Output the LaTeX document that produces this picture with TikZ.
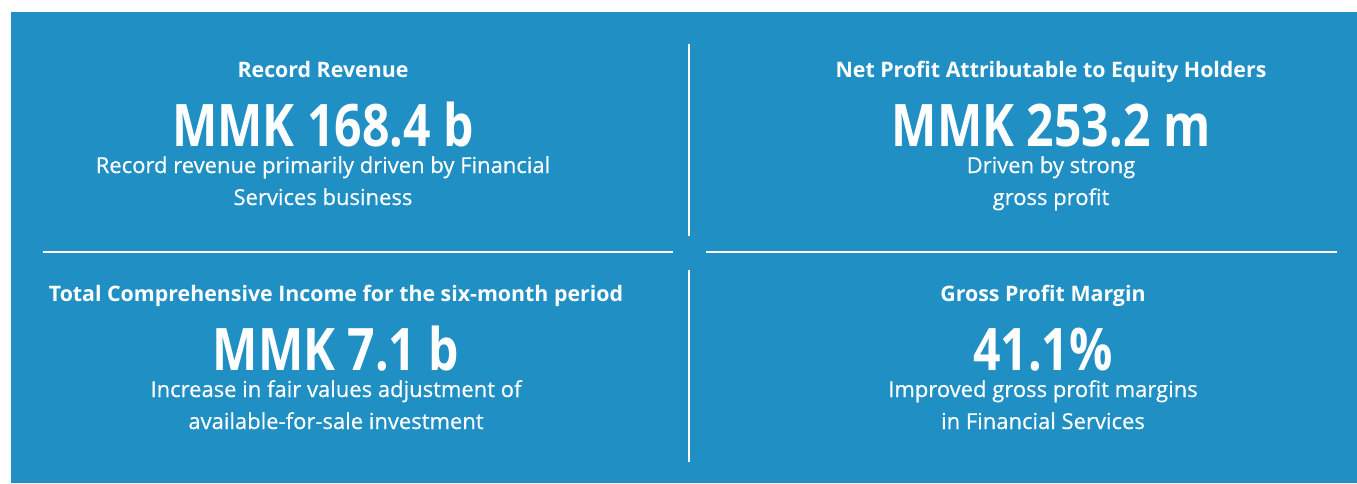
\documentclass[tikz,border=0pt]{standalone}
\usepackage{fontspec}
\setmainfont{Open Sans}
\newfontfamily\figurefont[FakeStretch=0.82]{Open Sans}
\newfontfamily\remarkfont[FakeBold=0.4]{Open Sans}
\usepackage{tikz}

\definecolor{panelblue}{RGB}{32,144,196}

\tikzset{
  title/.style={text=white, inner sep=0pt, font=\bfseries\fontsize{16}{19}\selectfont, anchor=base},
  figure/.style={text=white, inner sep=0pt, text depth=0pt, font=\figurefont\bfseries\fontsize{44}{48}\selectfont, anchor=base},
  remark/.style={text=white, inner sep=0pt, font=\remarkfont\fontsize{16.5}{24}\selectfont, anchor=base, align=center},
  divider/.style={white, line width=1.5pt}
}

\begin{document}
\begin{tikzpicture}[x=0.75pt, y=-0.75pt]

        \useasboundingbox (0, 0) rectangle (1357, 483);
        \fill[white] (0, 0) rectangle (1357, 483);
        \fill[panelblue] (11, 12) rectangle (1357, 483);

        \coordinate (vt1) at (689, 44);  \coordinate (vt2) at (689, 236);
        \coordinate (vb1) at (689, 270); \coordinate (vb2) at (689, 462);
        \coordinate (hl1) at (43, 252);  \coordinate (hl2) at (673, 252);
        \coordinate (hr1) at (706, 252); \coordinate (hr2) at (1337, 252);

        \draw[divider] (vt1) -- (vt2);
        \draw[divider] (vb1) -- (vb2);
        \draw[divider] (hl1) -- (hl2);
        \draw[divider] (hr1) -- (hr2);

        \node[title]  (revtitle) at (323, 77)  {Record Revenue};
        \node[figure] (revvalue) at (323, 146) {MMK 168.4 b};
        \node[remark] (revnote1) at (323, 173) {Record revenue primarily driven by Financial};
        \node[remark] (revnote2) at (323, 205) {Services business};

        \node[title]  (proftitle) at (1051, 77)  {Net Profit Attributable to Equity Holders};
        \node[figure] (profvalue) at (1051, 146) {MMK 253.2 m};
        \node[remark] (profnote1) at (1051, 173) {Driven by strong};
        \node[remark] (profnote2) at (1051, 205) {gross profit};

        \node[title]  (inctitle) at (336, 301) {Total Comprehensive Income for the six-month period};
        \node[figure] (incvalue) at (336, 370) {MMK 7.1 b};
        \node[remark] (incnote1) at (336, 397) {Increase in fair values adjustment of};
        \node[remark] (incnote2) at (336, 429) {available-for-sale investment};

        \node[title]  (margtitle) at (1043, 301) {Gross Profit Margin};
        \node[figure] (margvalue) at (1043, 370) {41.1\%};
        \node[remark] (margnote1) at (1043, 397) {Improved gross profit margins};
        \node[remark] (margnote2) at (1043, 429) {in Financial Services};

      \end{tikzpicture}
\end{document}
